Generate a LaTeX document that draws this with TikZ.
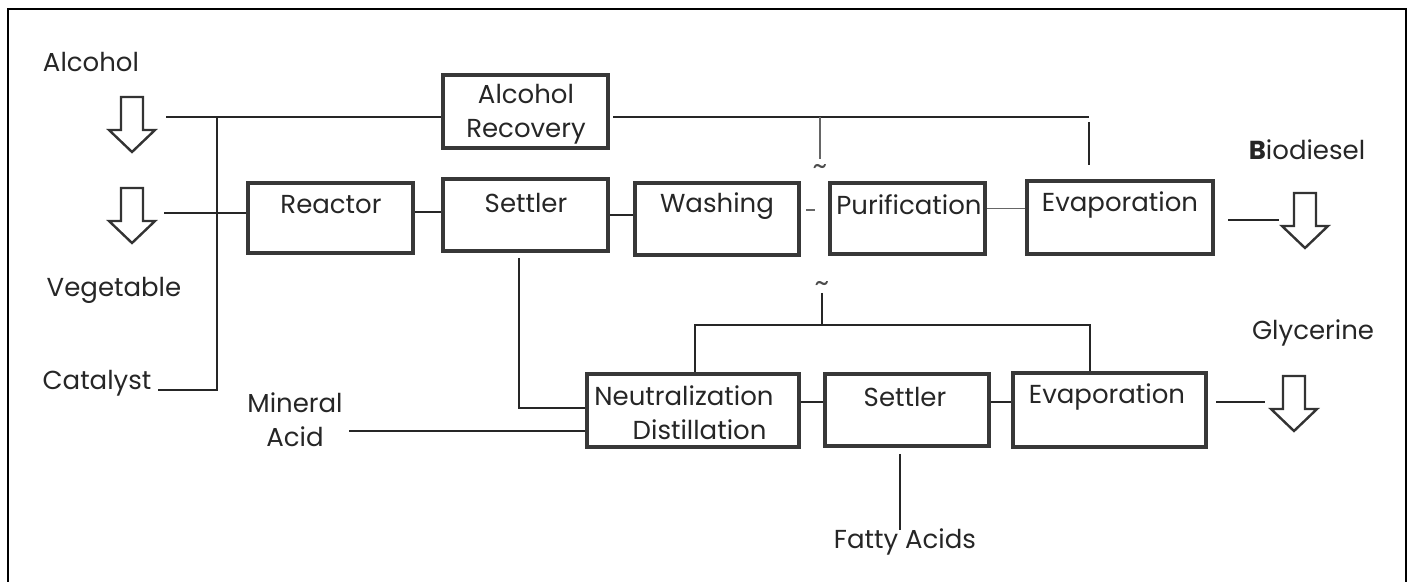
\documentclass[tikz,border=0pt]{standalone}
\usepackage{fontspec}
\setmainfont{Poppins}
\begin{document}
\begin{tikzpicture}[x=0.5pt,y=-0.5pt,
  box/.style={draw=black!78,line width=2pt,inner sep=0pt},
  lbl/.style={font=\fontsize{13}{17}\selectfont,inner sep=0pt,text=black!85,align=center},
  conn/.style={line width=1pt,draw=black!85},
  thin conn/.style={line width=0.6pt,draw=black!60},
  arr/.style={line width=1.2pt,draw=black!80,line join=miter},
  frame/.style={line width=1.2pt,draw=black},
  tl/.style={font=\fontsize{14}{14}\selectfont,inner sep=0pt,text=black!70},
  dnarrow/.pic={\draw[arr] (-11,0) -- (11,0) -- (11,33) -- (23,33) -- (0,55) -- (-23,33) -- (-11,33) -- cycle;}
]
\useasboundingbox (0,0) rectangle (1414,582);
% frame
\draw[frame] (8,582) -- (8,9) -- (1406,9) -- (1406,582);

% side labels
\node[lbl] (talc) at (91,62) {Alcohol};
\node[lbl] (tveg) at (114,290) {Vegetable};
\node[lbl] (tcat) at (97,383) {Catalyst};
\node[lbl] (tmin) at (295,420) {Mineral\\Acid};
\node[lbl] (tbio) at (1307,150) {\textbf{B}iodiesel};
\node[lbl] (tgly) at (1313,333) {Glycerine};
\node[lbl] (tfat) at (905,542) {Fatty Acids};

% hollow arrows
\pic at (132,97) {dnarrow};
\pic at (132,188) {dnarrow};
\pic at (1305,193) {dnarrow};
\pic at (1294,376) {dnarrow};

% boxes
\node[box,minimum width=82.5pt,minimum height=36.5pt] (recov) at (525.5,111.5) {};
\node[lbl] (recovt) at (526,114) {Alcohol\\Recovery};
\node[box,minimum width=82.5pt,minimum height=35pt] (reac) at (330.5,218) {};
\node[lbl] (react) at (331,205) {Reactor};
\node[box,minimum width=82.5pt,minimum height=36pt] (sett) at (525.5,215) {};
\node[lbl] (settt) at (526,203) {Settler};
\node[box,minimum width=82pt,minimum height=36pt] (wash) at (717,219) {};
\node[lbl] (washt) at (717,206) {Washing};
\node[box,minimum width=77.5pt,minimum height=35.5pt] (puri) at (907.5,218.5) {};
\node[lbl] (purit) at (909,205) {Purification};
\node[box,minimum width=93pt,minimum height=36.5pt] (evap) at (1120,217.5) {};
\node[lbl] (evapt) at (1120,205) {Evaporation};

\node[box,minimum width=106pt,minimum height=36.5pt] (neut) at (693,410.5) {};
\node[lbl] (neutt) at (684,413) {Neutralization\\\hspace*{1.2em}Distillation};
\node[box,minimum width=82pt,minimum height=36pt] (sett2) at (907,410) {};
\node[lbl] (sett2t) at (905,397) {Settler};
\node[box,minimum width=96.5pt,minimum height=37pt] (evap2) at (1109.5,410) {};
\node[lbl] (evap2t) at (1107,397) {Evaporation};

% tildes
\node[tl] (til1) at (820,170) {\textasciitilde};
\node[tl] (til2) at (822,287) {\textasciitilde};

% coordinates
\coordinate (inA) at (166,117);
\coordinate (inB) at (164,213);
\coordinate (trTop) at (217,117);
\coordinate (trBot) at (217,390);
\coordinate (catE) at (158,390);
\coordinate (recR) at (613,117);
\coordinate (topR) at (1089,117);
\coordinate (evTop) at (1089,165);
\coordinate (midV) at (820,159);
\coordinate (setD) at (519,258);
\coordinate (setC) at (519,408);
\coordinate (minE) at (349,431);
\coordinate (bioS) at (1228,220);
\coordinate (bioE) at (1279,220);
\coordinate (glyS) at (1216,402);
\coordinate (glyE) at (1265,402);
\coordinate (gV1) at (822,293);
\coordinate (gV2) at (822,325);
\coordinate (gL) at (695,325);
\coordinate (gR) at (1090,325);
\coordinate (fatA) at (900,454);
\coordinate (fatB) at (900,530);
\coordinate (wp1) at (806,210);
\coordinate (wp2) at (815,210);

% connectors
\draw[conn] (inA) -- (recov.west |- inA);
\draw[conn] (catE) -- (trBot) -- (trTop);
\draw[conn] (inB) -- (reac.west |- inB);
\draw[conn] ([yshift=3pt]reac.east) -- ([yshift=3pt]reac.east -| sett.west);
\draw[conn] ([yshift=0pt]sett.east) -- (sett.east -| wash.west);
\draw[thin conn] (wp1) -- (wp2);
\draw[thin conn] ([yshift=5pt]puri.east) -- ([yshift=5pt]puri.east -| evap.west);
\draw[conn] (bioS) -- (bioE);
\draw[conn] (recR) -- (topR);
\draw[conn] (topR |- 0,122) -- (evTop);
\draw[thin conn] (recR -| midV) -- (midV);
\draw[conn] (setD) -- (setC) -- (neut.west |- setC);
\draw[conn] (minE) -- (neut.west |- minE);
\draw[conn] ([yshift=4pt]neut.east) -- ([yshift=4pt]neut.east -| sett2.west);
\draw[conn] ([yshift=4pt]sett2.east) -- ([yshift=4pt]sett2.east -| evap2.west);
\draw[conn] (glyS) -- (glyE);
\draw[conn] (gV1) -- (gV2);
\draw[conn] (neut.north -| gL) -- (gL) -- (gR) -- (evap2.north -| gR);
\draw[conn] (fatA) -- (fatB);
\end{tikzpicture}
\end{document}
